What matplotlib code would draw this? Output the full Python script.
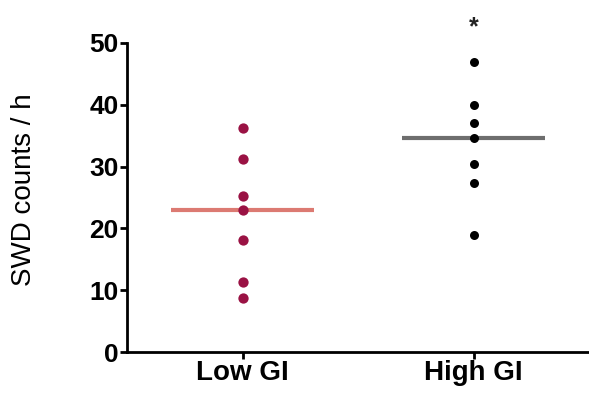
import numpy as np
import matplotlib
matplotlib.use("Agg")
import matplotlib.pyplot as plt

plt.rcParams["font.family"] = ["Liberation Sans", "DejaVu Sans"]

# dados
grupos = ["Low GI", "High GI"]
low_gi = [36.2, 31.2, 25.3, 23.0, 18.2, 11.4, 8.8]
high_gi = [46.9, 40.0, 37.1, 34.6, 30.5, 27.4, 19.0]
cores_pontos = ["#9a1244", "#000000"]
cores_linhas = ["#dc7a72", "#6e6e6e"]
yticks = [0, 10, 20, 30, 40, 50]

fig = plt.figure(figsize=(5.89, 3.95), dpi=100)
ax = fig.add_axes([127 / 589, 1 - 352 / 395, 1 - 127 / 589, (352 - 43) / 395])

tamanhos = [55, 42]
for i, valores in enumerate([low_gi, high_gi]):
    ax.scatter(np.full(len(valores), i), valores, s=tamanhos[i],
               color=cores_pontos[i], zorder=3, linewidths=0)
    ax.hlines(np.median(valores), i - 0.31, i + 0.31, color=cores_linhas[i],
              linewidth=3, zorder=2)

# asterisco de significancia
ax.text(1, 52.6, "*", ha="center", va="center", fontsize=18,
        fontweight="bold", color="#222222", clip_on=False)

ax.set_xlim(-0.5, 1.5)
ax.set_ylim(0, 50)
ax.set_xticks([0, 1])
ax.set_xticklabels(grupos, fontsize=20, fontweight="bold")
ax.set_yticks(yticks)
ax.set_yticklabels([str(t) for t in yticks], fontsize=19, fontweight="bold")
ax.set_ylabel("SWD counts / h", fontsize=20)
ax.yaxis.set_label_coords(-0.195, 0.524)

for lado in ["top", "right"]:
    ax.spines[lado].set_visible(False)
for lado in ["left", "bottom"]:
    ax.spines[lado].set_linewidth(2)
ax.tick_params(width=2, length=5, pad=1)

fig.savefig("out.png", dpi=100)
